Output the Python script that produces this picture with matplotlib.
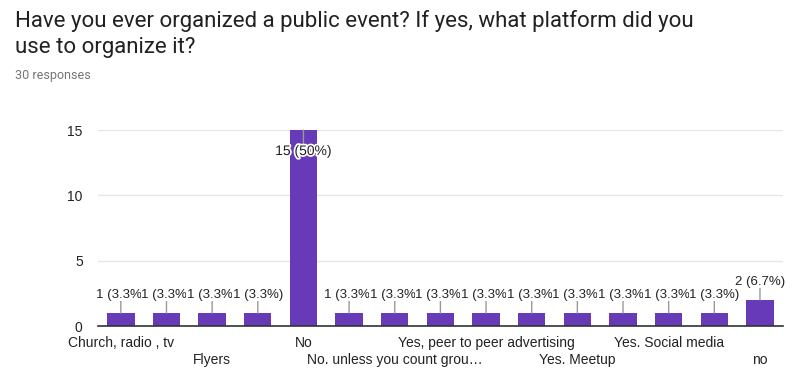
import matplotlib.pyplot as plt
import matplotlib.patheffects as pe

# answers (only every other label is shown on the axis)
categories = ["Church, radio , tv", "", "Flyers", "", "No",
              "", "No. unless you count grou\u2026", "", "Yes, peer to peer advertising", "",
              "Yes. Meetup", "", "Yes. Social media", "", "no"]
counts = [1, 1, 1, 1, 15, 1, 1, 1, 1, 1, 1, 1, 1, 1, 2]
total = 30

purple = "#673ab7"
plt.rcParams['font.family'] = ['Liberation Sans', 'DejaVu Sans']

fig = plt.figure(figsize=(8, 3.92), dpi=100)
ax = fig.add_axes([0.1225, 0.168, 0.856, 0.5])

x = list(range(len(counts)))
ax.bar(x, counts, width=0.6, color=purple, zorder=2)

ax.set_xlim(-0.5, len(counts) - 0.5)
ax.set_ylim(0, 15)
ax.set_yticks([0, 5, 10, 15])
ax.yaxis.grid(True, color="#e6e6e6", linewidth=1, zorder=0)
ax.tick_params(axis='y', length=0, labelsize=10, pad=11, labelcolor="#222222")
ax.set_xticks([])
for s in ["top", "right", "left"]:
    ax.spines[s].set_visible(False)
ax.spines["bottom"].set_color("#333333")
ax.spines["bottom"].set_linewidth(1.2)
ax.spines["bottom"].set_zorder(3)

# staggered category labels
for i, lab in enumerate(categories):
    if not lab:
        continue
    row = (i // 2) % 2
    ax.annotate(lab, xy=(i, 0), xytext=(0, -7 - row * 12.5), textcoords="offset points",
                ha="center", va="top", fontsize=10, color="#222222")

# value labels with leader lines; each label's white box hides the end of the previous one
for i, c in enumerate(counts):
    pct = c / total * 100
    txt = "%d (%s%%)" % (c, ("%.1f" % pct).rstrip("0").rstrip("."))
    if c == max(counts):
        ax.annotate("", xy=(i, c), xytext=(0, -10), textcoords="offset points",
                    arrowprops=dict(arrowstyle="-", color="#999999", lw=1, shrinkA=0, shrinkB=0))
        t = ax.annotate(txt, xy=(i, c), xytext=(0, -10), textcoords="offset points",
                        ha="center", va="top", fontsize=10, color="#222222", zorder=5 + i)
        t.set_path_effects([pe.withStroke(linewidth=2.5, foreground="white")])
    else:
        ax.annotate("", xy=(i, c), xytext=(0, 9), textcoords="offset points",
                    arrowprops=dict(arrowstyle="-", color="#999999", lw=1, shrinkA=0, shrinkB=0))
        ax.annotate(txt, xy=(i, c), xytext=(0, 9), textcoords="offset points",
                    ha="center", va="bottom", fontsize=9.5, color="#222222", zorder=5 + i,
                    bbox=dict(boxstyle="square,pad=0.05", fc="white", ec="none"))

fig.text(0.019, 0.947, "Have you ever organized a public event? If yes, what platform did you",
         fontsize=16, family="Roboto", color="#212121", va="center")
fig.text(0.019, 0.878, "use to organize it?", fontsize=16, family="Roboto",
         color="#212121", va="center")
fig.text(0.019, 0.808, "30 responses", fontsize=9, family="Roboto", color="#757575", va="center")

fig.savefig("out.png", dpi=100)
